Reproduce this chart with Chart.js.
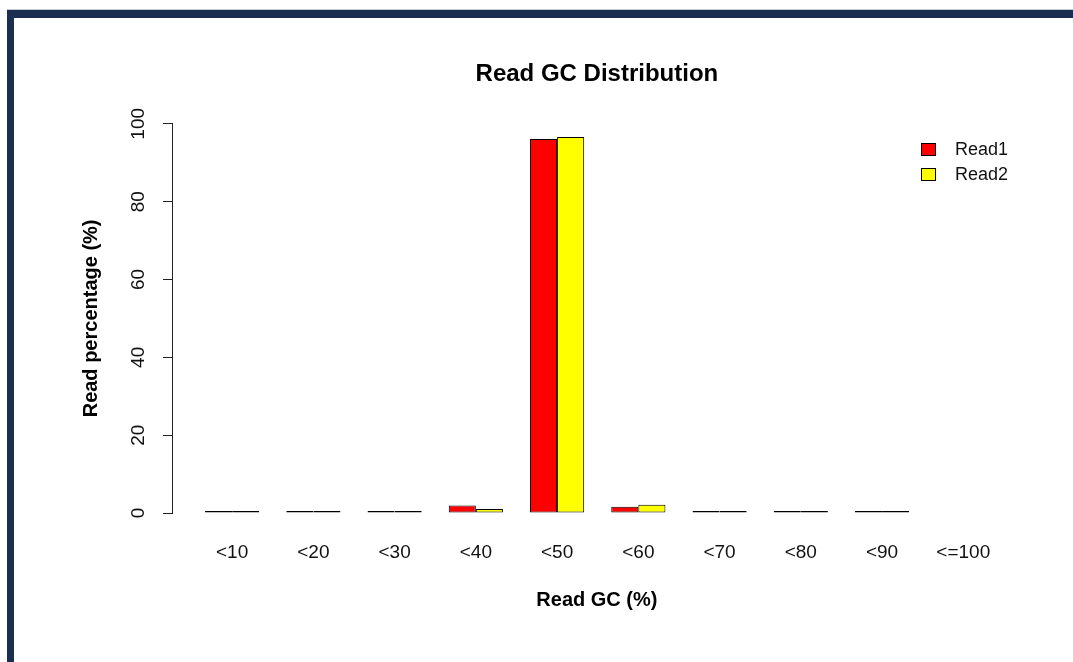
<!DOCTYPE html>
<html>
<head>
<meta charset="utf-8">
<title>Read GC Distribution</title>
<script src="https://cdn.jsdelivr.net/npm/chart.js@4/dist/chart.umd.min.js"></script>
<style>
  html, body { margin: 0; padding: 0; background: #ffffff; }
  #wrap { position: relative; width: 1073px; height: 662px; overflow: hidden; }
  #chart { position: absolute; left: 0; top: 0; }
  .frame {
    position: absolute; left: 7px; top: 10px; right: -10px; bottom: -10px;
    border-top: 8px solid #1c2e52; border-left: 7px solid #1c2e52;
    box-shadow: 0 -1px 0 #c3c8d2;
    pointer-events: none;
  }
</style>
</head>
<body>
<div id="wrap">
  <canvas id="chart" width="1073" height="662"></canvas>
  <div class="frame"></div>
</div>
<script>
// GC-content bins and the share of reads (%) falling into each bin
const categories = ['<10', '<20', '<30', '<40', '<50', '<60', '<70', '<80', '<90', '<=100'];
const read1 = [0, 0, 0.1, 1.9, 96.1, 1.6, 0.2, 0, 0, null];
const read2 = [0, 0, 0.1, 1.0, 96.6, 2.1, 0.3, 0, 0, null];
const yTicks = [0, 20, 40, 60, 80, 100];

const FONT = '"Liberation Sans", Arial, Helvetica, sans-serif';
Chart.defaults.font.family = FONT;
Chart.defaults.color = '#111';

const toPoints = (vals) => vals.map((v, i) => ({ x: i, y: v }));

// R-style legend drawn inside the plot region, top-right
const boxLegend = {
  id: 'boxLegend',
  afterDraw(chart) {
    const ctx = chart.ctx;
    ctx.save();
    chart.data.datasets.forEach((ds, i) => {
      const top = 143 + i * 25;
      ctx.fillStyle = ds.backgroundColor;
      ctx.fillRect(921, top, 15, 13);
      ctx.strokeStyle = '#000';
      ctx.lineWidth = 1;
      ctx.strokeRect(921.5, top + 0.5, 14, 12);
      ctx.fillStyle = '#111';
      ctx.font = '18px ' + FONT;
      ctx.textAlign = 'left';
      ctx.textBaseline = 'middle';
      ctx.fillText(ds.label, 955, top + 7);
    });
    ctx.restore();
  }
};

new Chart(document.getElementById('chart'), {
  type: 'bar',
  data: {
    datasets: [
      { label: 'Read1', data: toPoints(read1), backgroundColor: '#ff0000' },
      { label: 'Read2', data: toPoints(read2), backgroundColor: '#ffff00' }
    ]
  },
  options: {
    responsive: false,
    animation: false,
    events: [],
    layout: { padding: { left: 79, right: 51.2, top: 0, bottom: 49.5 } },
    datasets: {
      bar: {
        categoryPercentage: 2 / 3,
        barPercentage: 1,
        borderWidth: 1,
        borderColor: '#000',
        borderSkipped: false,
        minBarLength: 2
      }
    },
    plugins: {
      legend: { display: false },
      tooltip: { enabled: false },
      title: {
        display: true,
        fullSize: false,
        text: 'Read GC Distribution',
        color: '#000',
        font: { size: 24, weight: 'bold' },
        padding: { top: 60, bottom: 35 }
      }
    },
    scales: {
      x: {
        type: 'linear',
        bounds: 'data',
        offset: false,
        min: -0.74,
        max: 9.72,
        afterBuildTicks: (scale) => { scale.ticks = categories.map((c, i) => ({ value: i })); },
        afterFit: (scale) => { scale.height = 99.5; },
        grid: { display: false, drawTicks: false },
        border: { display: false },
        ticks: {
          autoSkip: false,
          maxRotation: 0,
          padding: 28,
          font: { size: 19 },
          color: '#111',
          callback: (v) => categories[v] ?? ''
        },
        title: {
          display: true,
          text: 'Read GC (%)',
          color: '#000',
          font: { size: 20, weight: 'bold' },
          padding: 0
        }
      },
      y: {
        min: 0,
        max: 100,
        afterBuildTicks: (scale) => { scale.ticks = yTicks.map((v) => ({ value: v })); },
        afterFit: (scale) => { scale.width = 93; },
        grid: { drawOnChartArea: false, drawTicks: true, tickLength: 9, color: '#222', lineWidth: 1 },
        border: { display: true, color: '#222', width: 1 },
        ticks: {
          minRotation: 90,
          maxRotation: 90,
          crossAlign: 'center',
          padding: 8,
          font: { size: 19 },
          color: '#111'
        },
        title: {
          display: true,
          text: 'Read percentage (%)',
          color: '#000',
          font: { size: 20, weight: 'bold' },
          padding: 0
        }
      }
    }
  },
  plugins: [boxLegend]
});
</script>
</body>
</html>
